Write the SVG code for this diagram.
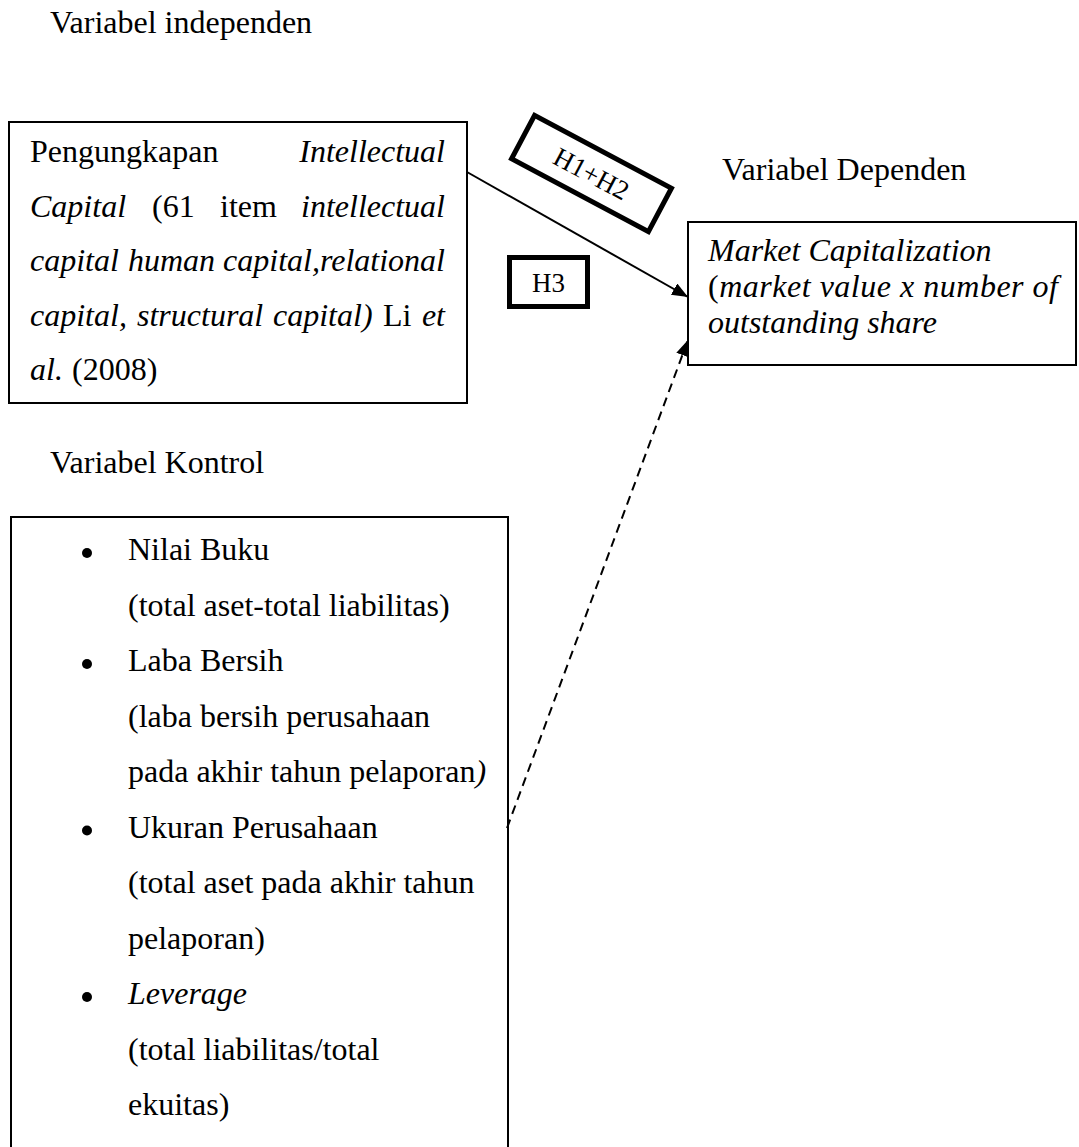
<svg xmlns="http://www.w3.org/2000/svg" width="1079" height="1147" viewBox="0 0 1079 1147">
<style>
text{font-family:"Liberation Serif","Times New Roman",serif;font-size:32px;fill:#000}
.i{font-style:italic}
.box{fill:#fff;stroke:#000;stroke-width:2}
.thick{fill:#fff;stroke:#000;stroke-width:5}
.lbl{font-size:27px}
.conn{stroke:#000;stroke-width:2;fill:none}
.dash{stroke-dasharray:9 6}
</style>
<defs>
<marker id="ah" markerUnits="userSpaceOnUse" markerWidth="18" markerHeight="14" refX="16" refY="6.5" orient="auto">
<path d="M0,0 L16,6.5 L0,13 Z" fill="#000" stroke="none"/>
</marker>
</defs>
<rect width="1079" height="1147" fill="#fff"/>

<g id="title-independen"><text x="50" y="33">Variabel independen</text></g>
<g id="title-dependen"><text x="722" y="180">Variabel Dependen</text></g>
<g id="title-kontrol"><text x="50" y="473">Variabel Kontrol</text></g>

<g id="independent">
<rect class="box" x="9" y="122" width="458" height="281"/>
<text y="162"><tspan x="30">Pengungkapan</tspan></text>
<text y="162" class="i" text-anchor="end" x="445">Intellectual</text>
<text y="216.5"><tspan x="30" class="i">Capital</tspan><tspan x="152">(61</tspan><tspan x="220">item</tspan></text>
<text y="216.5" class="i" text-anchor="end" x="445">intellectual</text>
<text y="271" class="i"><tspan x="30">capital</tspan><tspan x="128">human</tspan></text>
<text y="271" class="i" text-anchor="end" x="445">capital,relational</text>
<text y="325.5"><tspan x="30" class="i">capital,</tspan><tspan x="137" class="i">structural</tspan><tspan x="273" class="i">capital)</tspan><tspan x="383">Li</tspan></text>
<text y="325.5" class="i" text-anchor="end" x="445">et</text>
<text y="380"><tspan x="30" class="i">al.</tspan><tspan x="72">(2008)</tspan></text>
</g>

<g id="dependent">
<rect class="box" x="688" y="222" width="388" height="143"/>
<text x="708" y="261" class="i">Market Capitalization</text>
<text x="708" y="297" textLength="350" lengthAdjust="spacing"><tspan>(</tspan><tspan class="i">market value x number of</tspan></text>
<text x="708" y="333" class="i">outstanding share</text>
</g>

<g id="control">
<rect class="box" x="11" y="517" width="497" height="660"/>
<circle cx="87" cy="553" r="5"/>
<text x="128" y="560">Nilai Buku</text>
<text x="128" y="615.5">(total aset-total liabilitas)</text>
<circle cx="87" cy="664" r="5"/>
<text x="128" y="671">Laba Bersih</text>
<text x="128" y="726.5">(laba bersih perusahaan</text>
<text x="128" y="782">pada akhir tahun pelaporan<tspan class="i">)</tspan></text>
<circle cx="87" cy="830.5" r="5"/>
<text x="128" y="837.5">Ukuran Perusahaan</text>
<text x="128" y="893">(total aset pada akhir tahun</text>
<text x="128" y="948.5">pelaporan)</text>
<circle cx="87" cy="997" r="5"/>
<text x="128" y="1004" class="i">Leverage</text>
<text x="128" y="1059.5">(total liabilitas/total</text>
<text x="128" y="1115">ekuitas)</text>
</g>

<g id="connectors">
<line class="conn" x1="467" y1="172" x2="688" y2="297" marker-end="url(#ah)"/>
<line class="conn dash" x1="507" y1="828" x2="688" y2="340" marker-end="url(#ah)"/>
</g>

<g id="label-h1h2" transform="translate(591.5 173.5) rotate(28)">
<rect class="thick" x="-77.5" y="-24.5" width="155" height="49"/>
<text class="lbl" x="0" y="9.5" text-anchor="middle">H1+H2</text>
</g>

<g id="label-h3">
<rect class="thick" x="509.5" y="257.5" width="78" height="49"/>
<text class="lbl" x="548.5" y="291.5" text-anchor="middle">H3</text>
</g>
</svg>
